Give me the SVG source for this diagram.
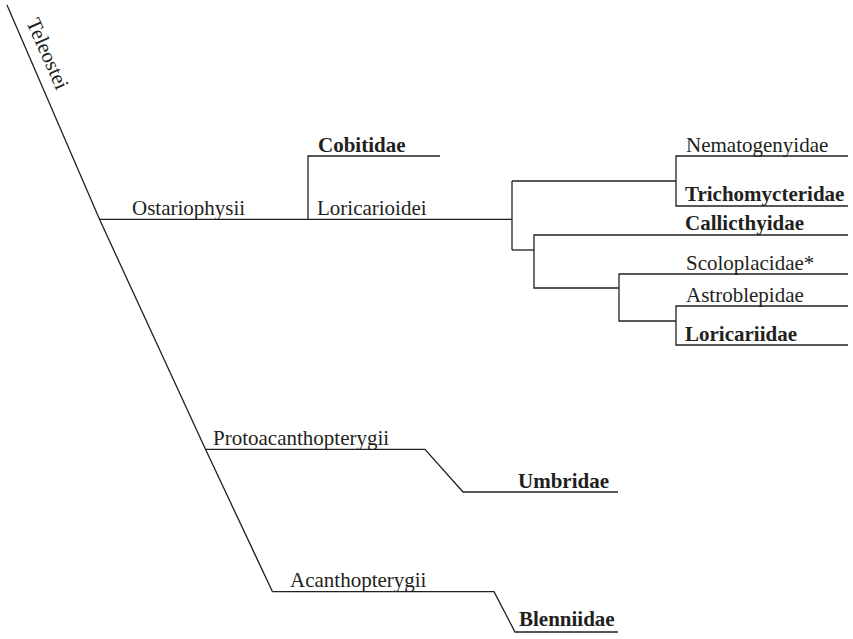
<svg xmlns="http://www.w3.org/2000/svg" width="853" height="639" viewBox="0 0 853 639">
<style>
.t{font-family:"Liberation Serif","Times New Roman",serif;font-size:21px;fill:#231f20}
.b{font-weight:bold}
.c{fill:none;stroke:#231f20;stroke-width:1.3;stroke-linejoin:miter}
</style>
<rect width="853" height="639" fill="#fff"/>
<g id="connectors">
<polyline class="c" points="7,5 99.5,219.3 205.5,449.3 272.5,591.7"/>
<polyline class="c" points="99.5,219.3 512,219.3"/>
<polyline class="c" points="440,156 308,156 308,219.3"/>
<polyline class="c" points="512,181 512,250"/>
<polyline class="c" points="512,181 676,181"/>
<polyline class="c" points="848,156 676,156 676,206 848,206"/>
<polyline class="c" points="512,250 534,250"/>
<polyline class="c" points="848,235 534,235 534,288 619,288"/>
<polyline class="c" points="848,274 619,274 619,321 676,321"/>
<polyline class="c" points="848,306 676,306 676,345 848,345"/>
<polyline class="c" points="205.5,449.3 425,449.3 463,492 618,492"/>
<polyline class="c" points="272.5,591.7 494,591.7 515,632 618,632"/>
</g>
<g id="teleostei"><text class="t" transform="translate(26,22) rotate(66)">Teleostei</text></g>
<g id="ostariophysii"><text class="t" x="132" y="215">Ostariophysii</text></g>
<g id="loricarioidei"><text class="t" x="317" y="215">Loricarioidei</text></g>
<g id="cobitidae"><text class="t b" x="318" y="151.5">Cobitidae</text></g>
<g id="nematogenyidae"><text class="t" x="686" y="151.5">Nematogenyidae</text></g>
<g id="trichomycteridae"><text class="t b" x="685" y="201">Trichomycteridae</text></g>
<g id="callicthyidae"><text class="t b" x="685" y="230">Callicthyidae</text></g>
<g id="scoloplacidae"><text class="t" x="686" y="270">Scoloplacidae*</text></g>
<g id="astroblepidae"><text class="t" x="686" y="302">Astroblepidae</text></g>
<g id="loricariidae"><text class="t b" x="685" y="341">Loricariidae</text></g>
<g id="protoacanthopterygii"><text class="t" x="213" y="445">Protoacanthopterygii</text></g>
<g id="umbridae"><text class="t b" x="518" y="488">Umbridae</text></g>
<g id="acanthopterygii"><text class="t" x="290" y="587">Acanthopterygii</text></g>
<g id="blenniidae"><text class="t b" x="519" y="626">Blenniidae</text></g>
</svg>
